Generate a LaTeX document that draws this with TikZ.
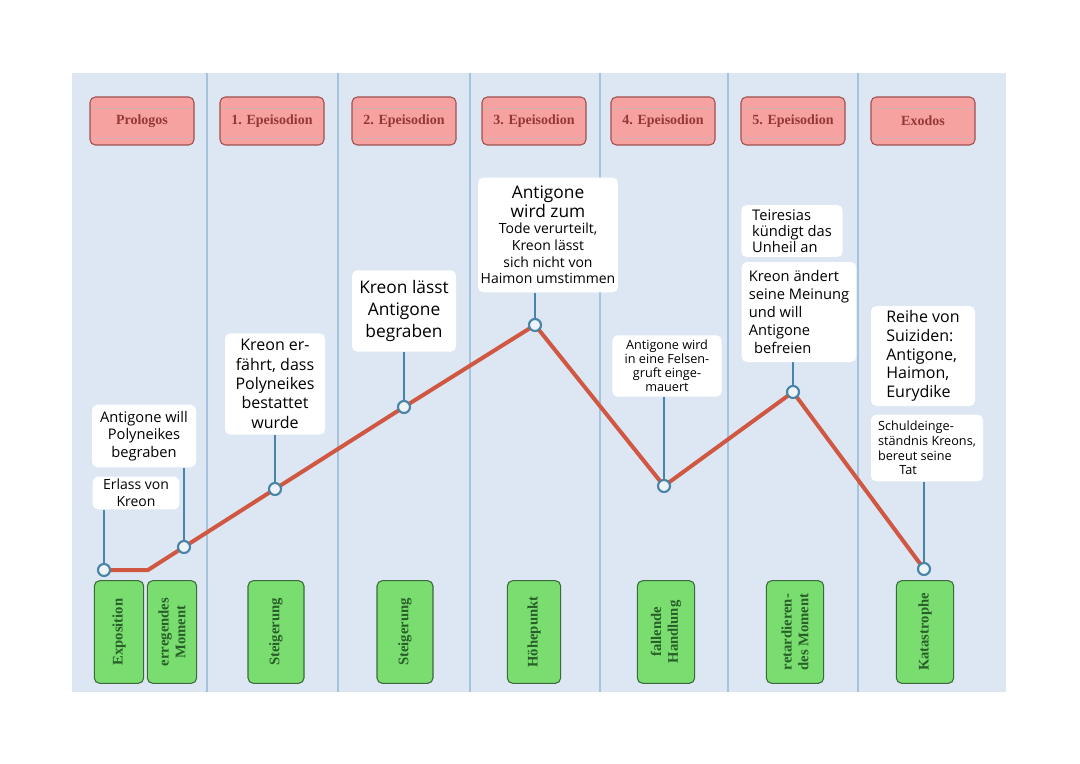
\documentclass[tikz,border=0pt]{standalone}
\usepackage{fontspec}
\setmainfont{Liberation Serif}
\newfontfamily\handfont{Open Sans}
\usetikzlibrary{positioning}
\definecolor{panelblue}{RGB}{221,231,243}
\definecolor{colline}{RGB}{165,195,218}
\definecolor{headfill}{RGB}{246,162,160}
\definecolor{headdraw}{RGB}{160,80,80}
\definecolor{headtext}{RGB}{150,55,55}
\definecolor{phasefill}{RGB}{122,221,112}
\definecolor{phasedraw}{RGB}{60,105,60}
\definecolor{phasetext}{RGB}{40,95,40}
\definecolor{curvered}{RGB}{208,88,66}
\definecolor{stemblue}{RGB}{72,132,165}
\pgfdeclarelayer{panel}
\pgfdeclarelayer{lines}
\pgfsetlayers{panel,lines,main}

\begin{document}
\begin{tikzpicture}[x=0.75pt,y=-0.75pt,
    header/.style={draw=headdraw, fill=headfill, rounded corners=4pt, line width=0.8pt,
      minimum width=78pt, minimum height=36pt, font=\bfseries\fontsize{10.5}{12}\selectfont, text=headtext,
      path picture={\draw[headdraw!45, line width=0.4pt]
        ([yshift=-8.5pt]path picture bounding box.north west) -- ([yshift=-8.5pt]path picture bounding box.north east)
        ([yshift=5pt]path picture bounding box.south west) -- ([yshift=5pt]path picture bounding box.south east);}},
    phase/.style={draw=phasedraw, fill=phasefill, rounded corners=4pt, line width=0.8pt, rotate=90,
      minimum width=77pt, minimum height=38pt, align=center,
      font=\bfseries\fontsize{11}{12.5}\selectfont, text=phasetext},
    note/.style={fill=white, rounded corners=4pt, align=center, inner sep=2pt,
      font=\handfont\fontsize{10.5}{12.5}\selectfont},
    stem/.style={stemblue, line width=1.6pt},
    plotline/.style={curvered, line width=3pt, line join=round},
    knot/.style={circle, draw=stemblue, line width=1.6pt, fill=panelblue!50!white,
      minimum size=9pt, inner sep=0pt}]
    \useasboundingbox (0,0) rectangle (1080,763);

    % --- panel and columns ---
    \begin{pgfonlayer}{panel}
    \fill[panelblue] (72,73) rectangle (1006,692);
    \foreach \x in {207,338,470,600,728,858}
        \draw[colline, line width=1pt] (\x,73) -- (\x,692);
    \end{pgfonlayer}

    % --- parts of the drama (top) ---
    \node[header] (prologos) at (142,121) {Prologos};
    \node[header] (epi1) at (272,121) {1. Epeisodion};
    \node[header] (epi2) at (404,121) {2. Epeisodion};
    \node[header] (epi3) at (534,121) {3. Epeisodion};
    \node[header] (epi4) at (663,121) {4. Epeisodion};
    \node[header] (epi5) at (793,121) {5. Epeisodion};
    \node[header] (exodos) at (923,121) {Exodos};

    % --- stages of the plot (bottom) ---
    \node[phase, minimum height=37pt] (exposition) at (119,632) {Exposition};
    \node[phase, minimum height=37pt] (moment) at (172,632) {erregendes\\Moment};
    \node[phase, minimum height=42pt] (steig1) at (276,632) {Steigerung};
    \node[phase, minimum height=42pt] (steig2) at (405,632) {Steigerung};
    \node[phase, minimum height=40pt] (hoehe) at (534,632) {Höhepunkt};
    \node[phase, minimum height=43pt] (fallend) at (666,632) {fallende\\Handlung};
    \node[phase, minimum height=43pt] (retard) at (795,632) {retardieren-\\des Moment};
    \node[phase, minimum height=43pt] (kata) at (925,632) {Katastrophe};

    % --- events ---
    \node[note, minimum width=65pt, minimum height=22pt] (erlass) at (136,493) {Erlass von\\Kreon};
    \node[note, minimum width=78pt, minimum height=47pt, font=\handfont\fontsize{11}{13}\selectfont]
        (will) at (144,436) {Antigone will\\Polyneikes\\begraben};
    \node[note, minimum width=75pt, minimum height=76pt, font=\handfont\fontsize{12}{14.5}\selectfont]
        (erfaehrt) at (275,384) {Kreon er-\\fährt, dass\\Polyneikes\\bestattet\\wurde};
    \node[note, minimum width=78pt, minimum height=61pt, font=\handfont\fontsize{13}{16.5}\selectfont]
        (laesst) at (404,311) {Kreon lässt\\Antigone\\begraben};
    \node[note, minimum width=99pt, minimum height=86pt, font=\handfont\fontsize{10.5}{12.5}\selectfont]
        (urteil) at (548,235) {{\fontsize{13}{15}\selectfont Antigone}\\
        {\fontsize{13}{15}\selectfont wird zum}\\Tode verurteilt,\\Kreon lässt\\sich nicht von\\Haimon umstimmen};
    \node[note, minimum width=82pt, minimum height=46pt, font=\handfont\fontsize{9.5}{10.5}\selectfont]
        (felsen) at (667,366) {Antigone wird\\in eine Felsen-\\gruft einge-\\mauert};
    \node[note, minimum width=76pt, minimum height=39pt, align=left, font=\handfont\fontsize{11}{12}\selectfont]
        (teiresias) at (792,231) {Teiresias\\kündigt das\\Unheil an};
    \node[note, minimum width=86pt, minimum height=75pt, align=left, font=\handfont\fontsize{11}{13.5}\selectfont]
        (aendert) at (799,312) {Kreon ändert\\seine Meinung\\und will\\Antigone\\\hspace*{4pt}befreien};
    \node[note, minimum width=78pt, minimum height=75pt, align=left, font=\handfont\fontsize{12}{14}\selectfont]
        (reihe) at (923,356) {Reihe von\\Suiziden:\\Antigone,\\Haimon,\\Eurydike};
    \node[note, minimum width=84pt, minimum height=50pt, align=left, font=\handfont\fontsize{9.5}{11}\selectfont]
        (schuld) at (927,448) {Schuldeinge-\\ständnis Kreons,\\bereut seine\\\hspace*{16pt}Tat};

    % --- points of the curve ---
    \node[knot] (k1) at (104,570) {};
    \coordinate (bend) at (148,570);
    \node[knot] (k2) at (184,547) {};
    \node[knot] (k3) at (275,489) {};
    \node[knot] (k4) at (404,407) {};
    \node[knot] (k5) at (535,325) {};
    \node[knot] (k6) at (664,486) {};
    \node[knot] (k7) at (793,392) {};
    \node[knot] (k8) at (924,569) {};

    \begin{pgfonlayer}{lines}
    \draw[plotline] (k1.center) -- (bend) -- (k2.center) -- (k3.center) -- (k4.center)
        -- (k5.center) -- (k6.center) -- (k7.center) -- (k8.center);
    \draw[stem] (k1) -- (k1 |- erlass.south);
    \draw[stem] (k2) -- (k2 |- will.south);
    \draw[stem] (k3) -- (k3 |- erfaehrt.south);
    \draw[stem] (k4) -- (k4 |- laesst.south);
    \draw[stem] (k5) -- (k5 |- urteil.south);
    \draw[stem] (k6) -- (k6 |- felsen.south);
    \draw[stem] (k7) -- (k7 |- aendert.south);
    \draw[stem] (k8) -- (k8 |- schuld.south);
    \end{pgfonlayer}
\end{tikzpicture}
\end{document}
